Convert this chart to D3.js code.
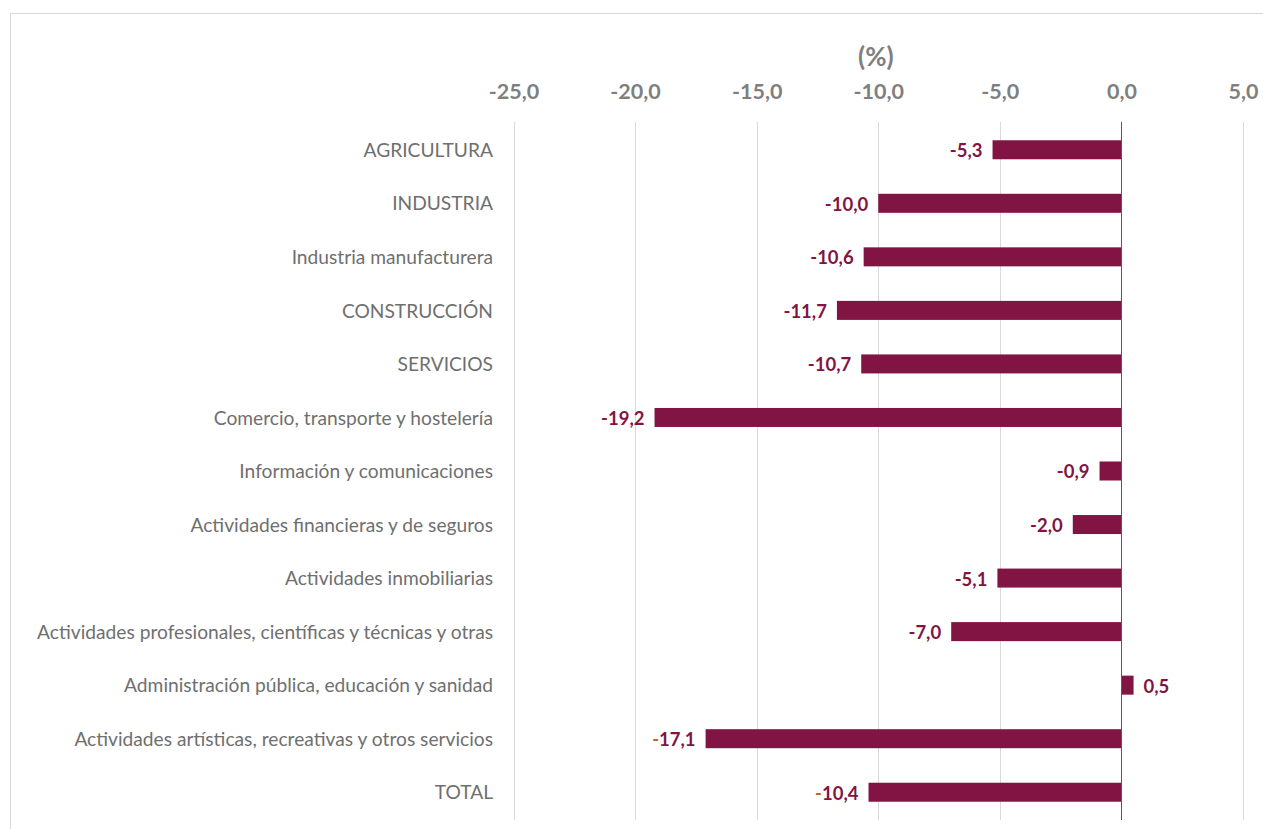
<!DOCTYPE html>
<html>
<head>
<meta charset="utf-8">
<script src="https://cdn.jsdelivr.net/npm/d3@7"></script>
<style>
  body { margin: 0; background: #fff; }
  svg { display: block; }
</style>
</head>
<body>
<script>
// categories top -> bottom
const sectors = [
  'AGRICULTURA',
  'INDUSTRIA',
  'Industria manufacturera',
  'CONSTRUCCIÓN',
  'SERVICIOS',
  'Comercio, transporte y hostelería',
  'Información y comunicaciones',
  'Actividades financieras y de seguros',
  'Actividades inmobiliarias',
  'Actividades profesionales, científicas y técnicas y otras',
  'Administración pública, educación y sanidad',
  'Actividades artísticas, recreativas y otros servicios',
  'TOTAL'
]
const changes = [-5.3, -10.0, -10.6, -11.7, -10.7, -19.2, -0.9, -2.0, -5.1, -7.0, 0.5, -17.1, -10.4]
const xTicks = [-25, -20, -15, -10, -5, 0, 5]
const unitLabel = '(%)'

const W = 1263, H = 829
const fmt = v => d3.format('.1f')(v).replace('.', ',').replace('−', '-')

const svg = d3.select('body').append('svg').attr('width', W).attr('height', H)

svg.append('rect')
  .attr('x', 10.5).attr('y', 13.5)
  .attr('width', 1262).attr('height', 830)
  .attr('fill', '#fff').attr('stroke', '#d9d9d9')

const x = d3.scaleLinear().domain([-25, 5]).range([513.5, 1243])
const y = d3.scaleBand().domain(sectors).range([123, 819]).paddingInner(0.645).paddingOuter(0.3225)

const data = sectors.map((s, i) => ({ sector: s, value: changes[i] }))

// grid
svg.append('g').selectAll('line')
  .data(xTicks.filter(t => t !== 0))
  .enter().append('line')
  .attr('x1', d => Math.round(x(d)) + 0.5).attr('x2', d => Math.round(x(d)) + 0.5)
  .attr('y1', 122).attr('y2', 820)
  .attr('stroke', '#d9d9d9')

// top axis
const xAxis = d3.axisTop(x).tickValues(xTicks).tickFormat(fmt).tickSize(0).tickPadding(0)
const ax = svg.append('g')
  .attr('transform', 'translate(0,99)')
  .call(xAxis)
ax.select('.domain').remove()
ax.selectAll('text')
  .attr('font-family', 'Lato, "Open Sans", sans-serif')
  .attr('font-size', 21.5)
  .attr('font-weight', 'bold')
  .attr('fill', '#7f7f7f')

svg.append('text')
  .attr('x', x(-10.1)).attr('y', 66)
  .attr('text-anchor', 'middle')
  .attr('font-family', 'Lato, "Open Sans", sans-serif')
  .attr('font-size', 26)
  .attr('font-weight', 'bold')
  .attr('fill', '#7f7f7f')
  .text(unitLabel)

// bars
svg.append('g').selectAll('.bar')
  .data(data)
  .enter().append('rect')
  .attr('class', 'bar')
  .attr('x', d => x(Math.min(0, d.value)))
  .attr('y', d => y(d.sector))
  .attr('width', d => Math.abs(x(d.value) - x(0)))
  .attr('height', y.bandwidth())
  .attr('fill', '#821443')

// zero line
svg.append('line')
  .attr('x1', Math.round(x(0)) + 0.5).attr('x2', Math.round(x(0)) + 0.5)
  .attr('y1', 122).attr('y2', 820)
  .attr('stroke', '#595959')

// category labels
const yAxis = d3.axisLeft(y).tickSize(0).tickPadding(0)
const ay = svg.append('g')
  .attr('transform', 'translate(493,1)')
  .call(yAxis)
ay.select('.domain').remove()
ay.selectAll('text')
  .attr('font-family', 'Lato, "Open Sans", sans-serif')
  .attr('font-size', 19.2)
  .attr('fill', '#6f6f6f')

// value labels
const orangeMinus = ['Actividades artísticas, recreativas y otros servicios', 'TOTAL']
const lbl = svg.append('g').selectAll('.val')
  .data(data)
  .enter().append('text')
  .attr('class', 'val')
  .attr('x', d => d.value < 0 ? x(d.value) - 10 : x(d.value) + 10)
  .attr('y', d => y(d.sector) + y.bandwidth() / 2 + 1)
  .attr('dy', '0.35em')
  .attr('text-anchor', d => d.value < 0 ? 'end' : 'start')
  .attr('font-family', 'Lato, "Open Sans", sans-serif')
  .attr('font-size', 18.5)
  .attr('font-weight', 'bold')
  .attr('fill', '#821443')

lbl.each(function (d) {
  const t = d3.select(this)
  const s = fmt(d.value)
  if (orangeMinus.includes(d.sector) && s[0] === '-') {
    t.append('tspan').attr('fill', '#d0621c').text('-')
    t.append('tspan').text(s.slice(1))
  } else {
    t.text(s)
  }
})
</script>
</body>
</html>
